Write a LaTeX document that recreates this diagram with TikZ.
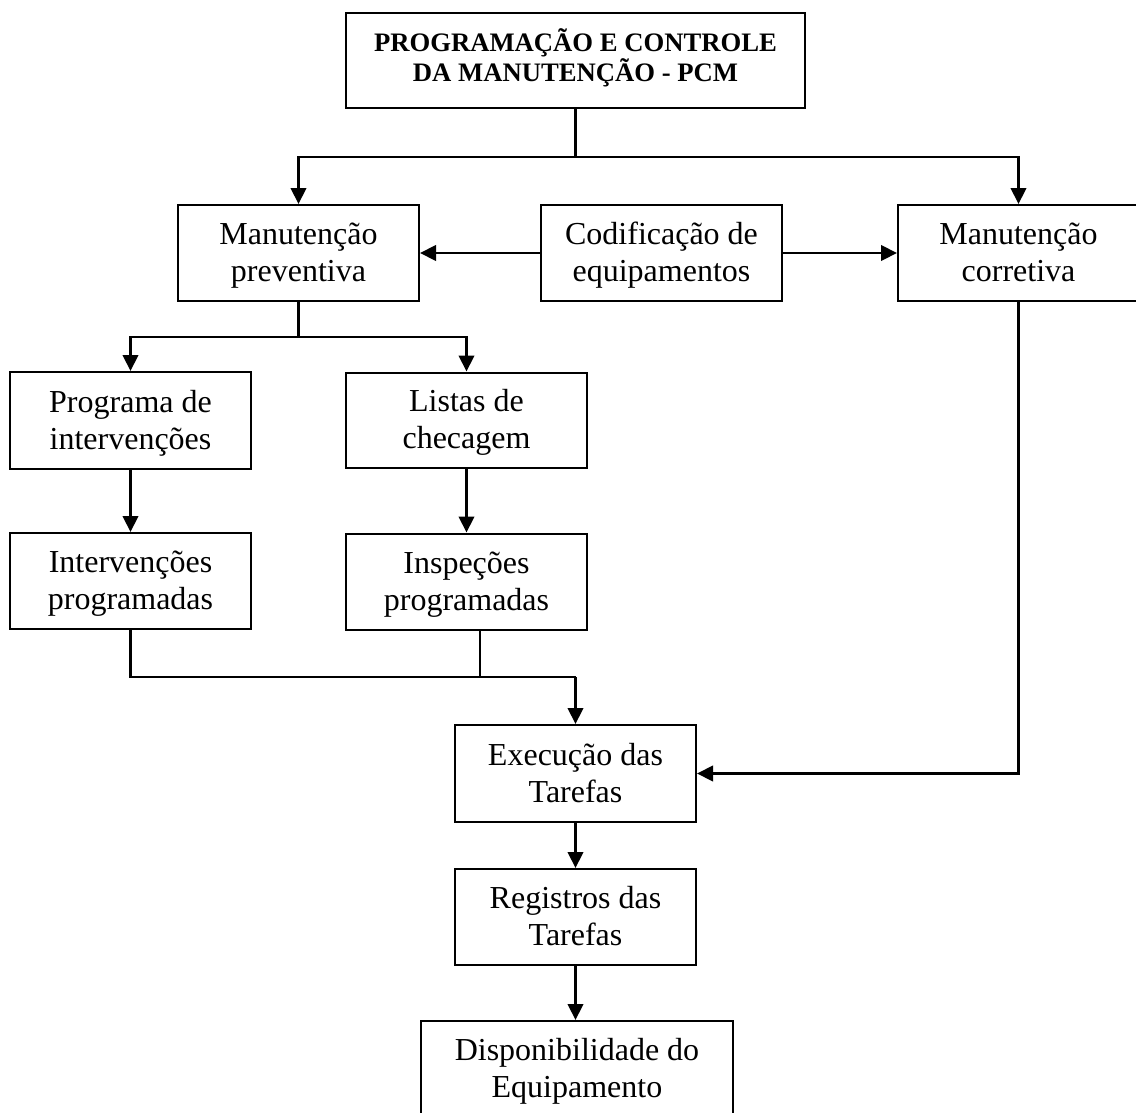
\documentclass[tikz,border=0pt]{standalone}
\usepackage{fontspec}
\setmainfont{Liberation Serif}
\usetikzlibrary{arrows.meta}
\newcommand\tstr{\rule{0pt}{24pt}}
\newcommand\bstr{\rule[-8.3pt]{0pt}{8.3pt}}
\newcommand\ttstr{\rule{0pt}{19pt}}
\newcommand\tbstr{\rule[-10pt]{0pt}{10pt}}
\begin{document}
\begin{tikzpicture}[x=0.75pt,y=-0.75pt,
  box/.style={draw=black,line width=1.5pt,rectangle,inner sep=0pt,align=center,
    minimum width=180.75pt,minimum height=72pt,
    font=\fontsize{24pt}{27.75pt}\selectfont},
  conn/.style={line width=2.2pt,draw=black},
  arr/.style={conn,-{Triangle[length=12pt,width=11.5pt]}}]
\useasboundingbox (0,0) rectangle (1136,1113);
\node[box,minimum width=344.25pt,minimum height=71.25pt,
  font=\fontsize{20pt}{20.25pt}\selectfont\bfseries] (pcm) at (575.5,60.5)
  {\ttstr PROGRAMAÇÃO E CONTROLE\\DA MANUTENÇÃO - PCM\tbstr};
\node[box] (prev) at (298.5,253) {\tstr Manutenção\\preventiva\bstr};
\node[box] (cod) at (661.5,253) {\tstr Codificação de\\equipamentos\bstr};
\node[box] (corr) at (1018.5,253) {\tstr Manutenção\\corretiva\bstr};
\node[box,minimum height=72.75pt] (prog) at (130.5,420.5) {\tstr Programa de\\intervenções\bstr};
\node[box,minimum height=71.25pt] (list) at (466.5,420) {\tstr Listas de\\checagem\bstr};
\node[box] (interv) at (130.5,581) {\tstr Intervenções\\programadas\bstr};
\node[box] (insp) at (466.5,581.5) {\tstr Inspeções\\programadas\bstr};
\node[box,minimum height=72.75pt] (exec) at (575.5,773.5) {\tstr Execução das\\Tarefas\bstr};
\node[box] (reg) at (575.5,917) {\tstr Registros das\\Tarefas\bstr};
\node[box,minimum width=234pt] (disp) at (577,1069) {\tstr Disponibilidade do\\Equipamento\bstr};
\coordinate (j1) at (575.5,157);
\coordinate (j2) at (298.5,337);
\coordinate (j3) at (575.5,677);
\draw[conn] (pcm.south) -- (j1);
\draw[arr] (j1) -| (prev.north);
\draw[arr] (j1) -| (corr.north);
\draw[arr] (cod.west) -- (prev.east);
\draw[arr] (cod.east) -- (corr.west);
\draw[conn] (prev.south) -- (j2);
\draw[arr] (j2) -| (prog.north);
\draw[arr] (j2) -| (list.north);
\draw[arr] (prog.south) -- (interv.north);
\draw[arr] (list.south) -- (insp.north);
\draw[conn] (interv.south) |- (j3);
\draw[conn] ([xshift=10.1pt]insp.south) |- (j3);
\draw[arr] (j3) -- (exec.north);
\draw[arr] (corr.south) |- (exec.east);
\draw[arr] (exec.south) -- (reg.north);
\draw[arr] (reg.south) -- (reg.south |- disp.north);
\end{tikzpicture}
\end{document}
